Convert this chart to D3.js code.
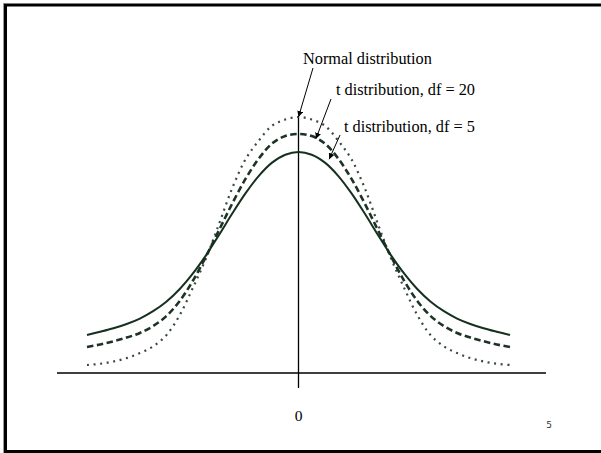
<!DOCTYPE html>
<html>
<head>
<meta charset="utf-8">
<script src="https://cdn.jsdelivr.net/npm/d3@7"></script>
<style>
  html, body { margin: 0; padding: 0; background: #fff; }
  svg { display: block; }
</style>
</head>
<body>
<svg id="chart" width="601" height="453"></svg>
<script>
// Standardised positions along the horizontal axis (step 0.25)
const zValues = [-4, -3.75, -3.5, -3.25, -3, -2.75, -2.5, -2.25, -2, -1.75, -1.5, -1.25, -1, -0.75, -0.5, -0.25, 0,
                 0.25, 0.5, 0.75, 1, 1.25, 1.5, 1.75, 2, 2.25, 2.5, 2.75, 3, 3.25, 3.5, 3.75, 4];

// Curve heights (density units) at each position
const normalHeights = [0.0125, 0.0144, 0.0180, 0.0233, 0.0311, 0.0416, 0.0590, 0.0900, 0.1326, 0.1791, 0.2334, 0.2895, 0.3341, 0.3632, 0.3864, 0.3961, 0.4000,
                       0.3961, 0.3864, 0.3632, 0.3341, 0.2895, 0.2334, 0.1791, 0.1326, 0.0900, 0.0590, 0.0416, 0.0311, 0.0233, 0.0180, 0.0144, 0.0125];
const t20Heights    = [0.0406, 0.0446, 0.0496, 0.0553, 0.0626, 0.0733, 0.0889, 0.1122, 0.1438, 0.1821, 0.2237, 0.2653, 0.3036, 0.3352, 0.3585, 0.3702, 0.3734,
                       0.3702, 0.3585, 0.3352, 0.3036, 0.2653, 0.2237, 0.1821, 0.1438, 0.1122, 0.0889, 0.0733, 0.0626, 0.0553, 0.0496, 0.0446, 0.0406];
const t5Heights     = [0.0594, 0.0645, 0.0700, 0.0766, 0.0851, 0.0966, 0.1114, 0.1309, 0.1552, 0.1838, 0.2161, 0.2495, 0.2810, 0.3081, 0.3287, 0.3411, 0.3453,
                       0.3411, 0.3287, 0.3081, 0.2810, 0.2495, 0.2161, 0.1838, 0.1552, 0.1309, 0.1114, 0.0966, 0.0851, 0.0766, 0.0700, 0.0645, 0.0594];

const curveLabels = ["Normal distribution", "t distribution, df = 20", "t distribution, df = 5"];
const axisTickLabels = ["0"];
const pageNumber = "5";

const svg = d3.select("#chart");
const serif = "Liberation Serif, Times New Roman, serif";

// slide frame
svg.append("line").attr("x1", 3.5).attr("x2", 3.5).attr("y1", 3).attr("y2", 453)
  .attr("stroke", "#9a9a9a").attr("stroke-width", 1);
svg.append("rect")
  .attr("x", 5.5).attr("y", 5).attr("width", 600).attr("height", 446.5)
  .attr("fill", "none").attr("stroke", "#000").attr("stroke-width", 3);

const x = d3.scaleLinear().domain([-4, 4]).range([87, 510]);
const y = d3.scaleLinear().domain([0, 0.4]).range([373, 117]);

// horizontal axis
svg.append("line")
  .attr("x1", 57).attr("x2", 546).attr("y1", y(0)).attr("y2", y(0))
  .attr("stroke", "#000").attr("stroke-width", 1.6);

// centre line at zero
svg.append("line")
  .attr("x1", x(0)).attr("x2", x(0)).attr("y1", y(0.4)).attr("y2", y(0) + 15)
  .attr("stroke", "#000").attr("stroke-width", 1.3);

svg.append("text")
  .attr("x", x(0)).attr("y", 421)
  .attr("text-anchor", "middle")
  .attr("font-family", serif)
  .attr("font-size", 15.5)
  .text(axisTickLabels[0]);

const line = d3.line()
  .x(d => x(d[0]))
  .y(d => y(d[1]))
  .curve(d3.curveCatmullRom.alpha(0.5));

const series = [
  { h: normalHeights, dash: "2,4.6", width: 2.2, color: "#3a4a40" },
  { h: t20Heights, dash: "6.5,3.5", width: 2.6, color: "#1d3325" },
  { h: t5Heights, dash: null, width: 2, color: "#16301f" }
];

series.forEach(s => {
  svg.append("path")
    .datum(zValues.map((z, i) => [z, s.h[i]]))
    .attr("d", line)
    .attr("fill", "none")
    .attr("stroke", s.color)
    .attr("stroke-width", s.width)
    .attr("stroke-dasharray", s.dash);
});

// arrowhead marker
svg.append("defs").append("marker")
  .attr("id", "arrow")
  .attr("viewBox", "0 0 10 10")
  .attr("refX", 10).attr("refY", 5)
  .attr("markerWidth", 6).attr("markerHeight", 6)
  .attr("markerUnits", "userSpaceOnUse")
  .attr("orient", "auto")
  .append("path").attr("d", "M0,0 L10,5 L0,10 z").attr("fill", "#000");

// callout labels with leader arrows
const callouts = [
  { text: curveLabels[0], tx: 303, ty: 64, from: [313, 68], z: 0, h: normalHeights[16] },
  { text: curveLabels[1], tx: 336, ty: 95, from: [331, 99], z: 0.33, h: 0.366 },
  { text: curveLabels[2], tx: 344, ty: 132, from: [340, 135], z: 0.58, h: 0.334 }
];

callouts.forEach(c => {
  svg.append("text")
    .attr("x", c.tx).attr("y", c.ty)
    .attr("font-family", serif)
    .attr("font-size", 16.3)
    .text(c.text);
  svg.append("line")
    .attr("x1", c.from[0]).attr("y1", c.from[1])
    .attr("x2", x(c.z)).attr("y2", y(c.h))
    .attr("stroke", "#000").attr("stroke-width", 1)
    .attr("marker-end", "url(#arrow)");
});

svg.append("text")
  .attr("x", 549).attr("y", 428)
  .attr("text-anchor", "middle")
  .attr("font-family", "DejaVu Sans, sans-serif")
  .attr("font-size", 9)
  .attr("fill", "#333")
  .text(pageNumber);
</script>
</body>
</html>
